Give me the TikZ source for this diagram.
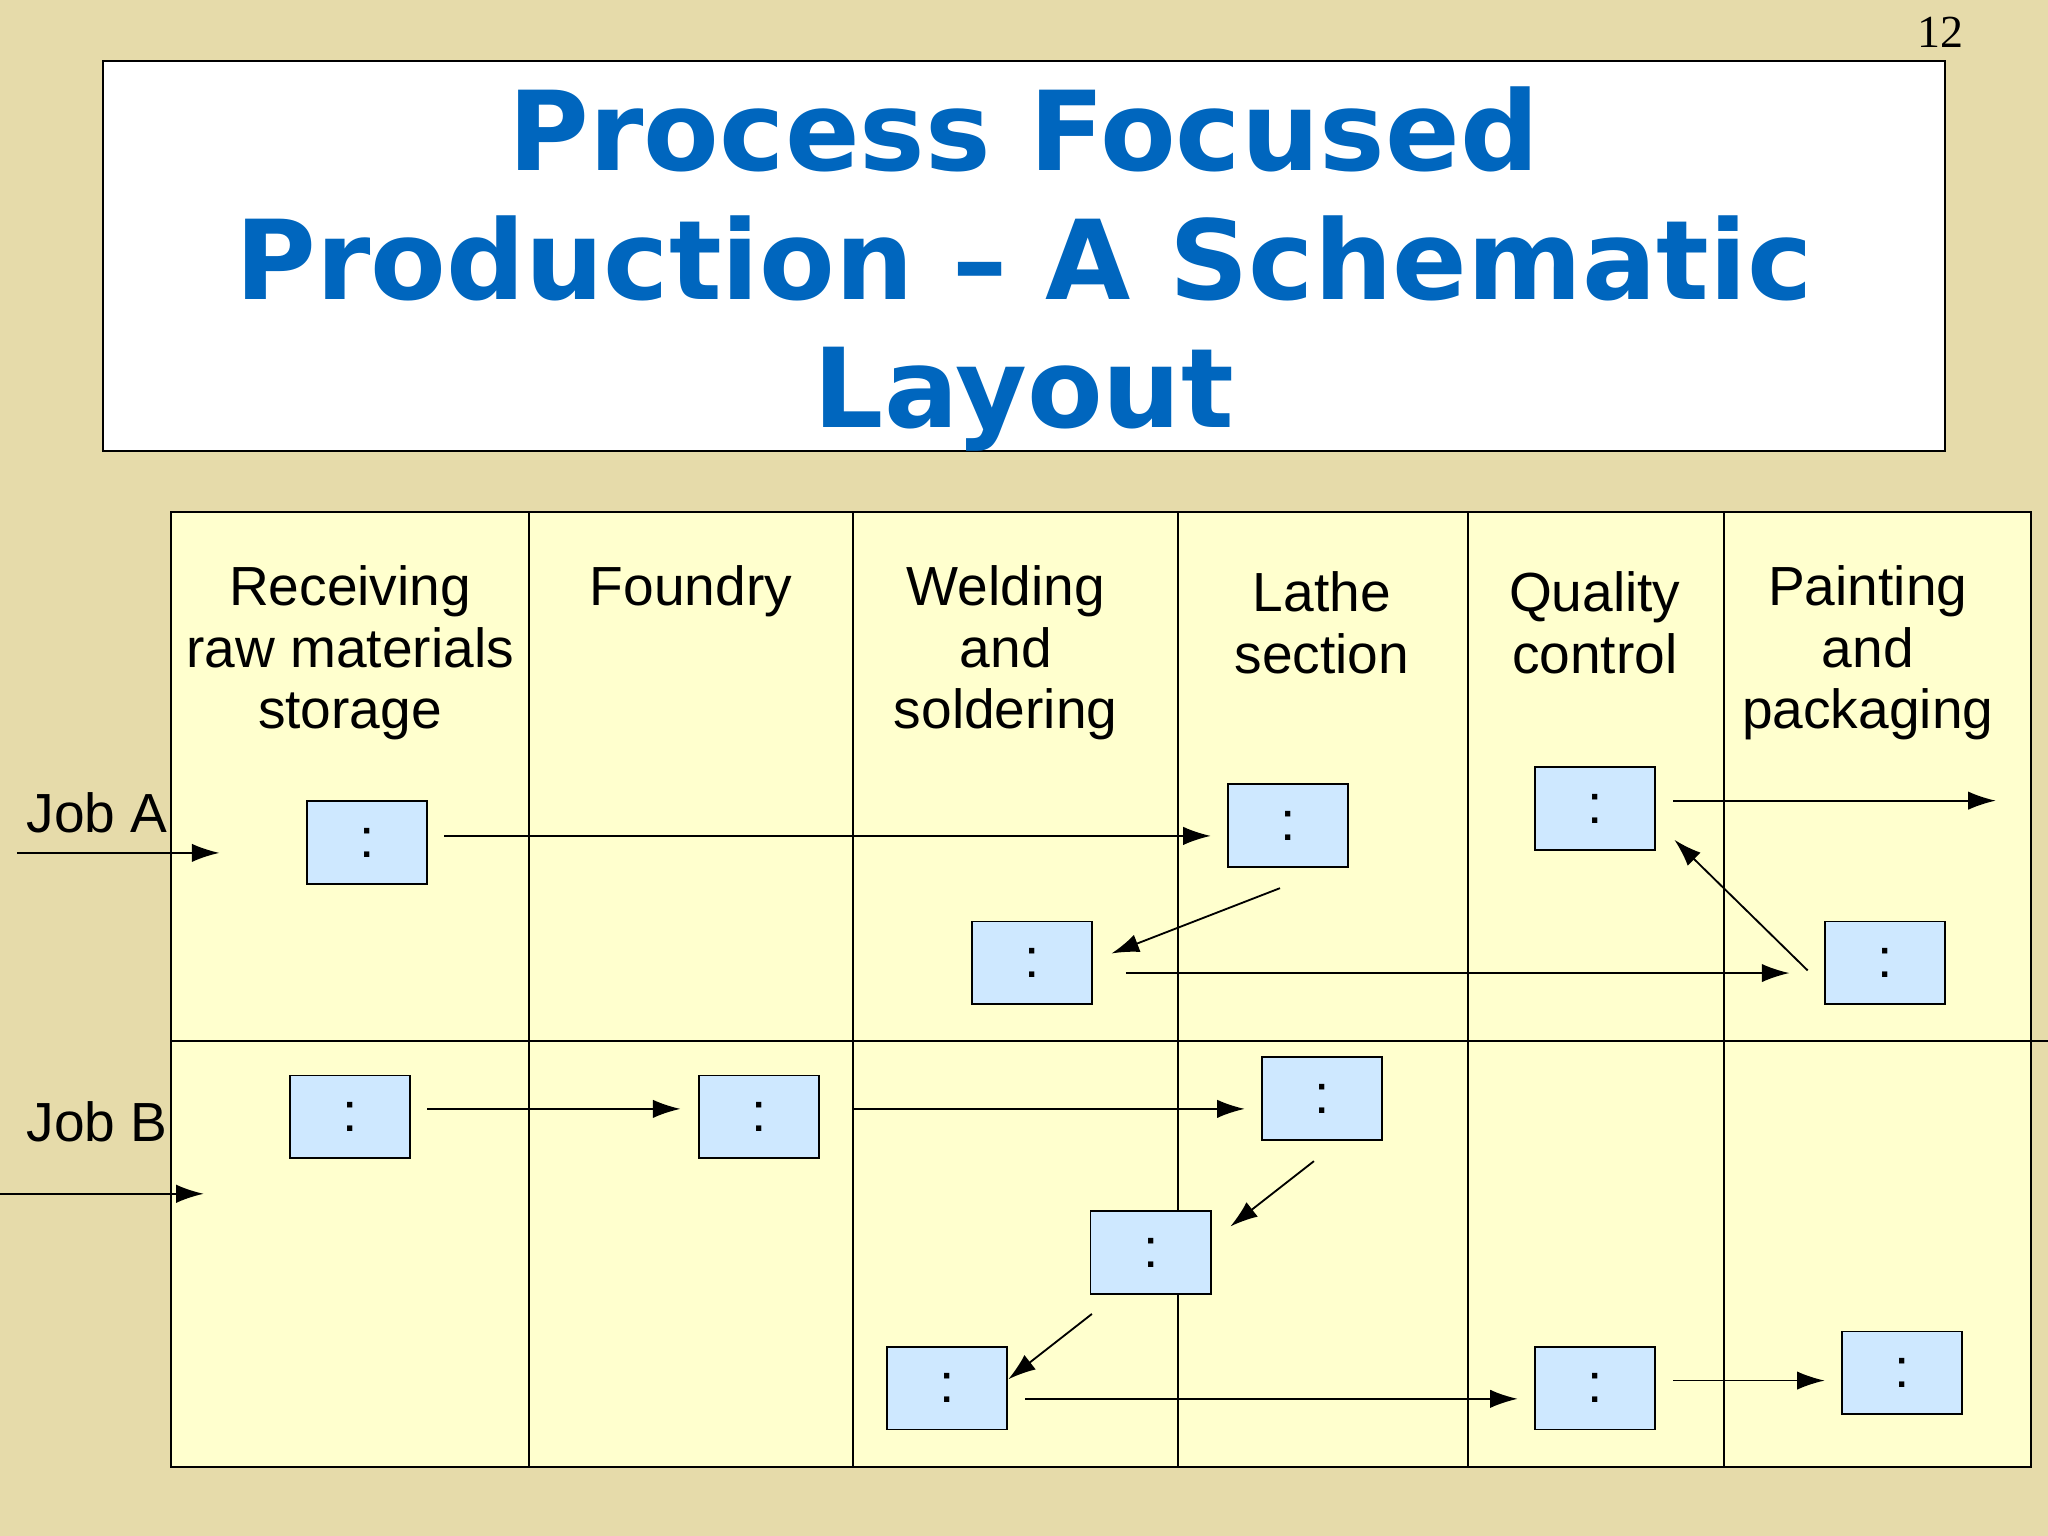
\documentclass[tikz,border=0pt]{standalone}
\usepackage{fontspec}
\setmainfont{Liberation Sans}
\newfontfamily\numfont{Liberation Serif}
\newfontfamily\headfont{DejaVu Sans}
\usetikzlibrary{arrows.meta}
\definecolor{slidebg}{RGB}{230,219,170}
\definecolor{cellbg}{RGB}{255,255,206}
\definecolor{boxbg}{RGB}{206,232,255}
\definecolor{titleblue}{RGB}{0,102,190}
\tikzset{
  dept/.style={align=center,font=\fontsize{12}{13.4}\selectfont},
  station/.style={draw,fill=boxbg,minimum width=0.92cm,minimum height=0.63cm,inner sep=0pt,font=\large},
  flow/.style={-{Latex[length=6pt,width=4pt]},thin},
  job/.style={anchor=west,font=\fontsize{12}{14}\selectfont}
}
\begin{document}
\begin{tikzpicture}[x=0.01cm,y=-0.01cm]
  \fill[slidebg] (0,0) rectangle (1568,1176);
  \useasboundingbox (0,0) rectangle (1568,1176);
  \node[font=\numfont\fontsize{10}{10}\selectfont] (pg) at (1486,25) {12};
  % title
  \draw[fill=white] (79,47) rectangle (1489,345);
  \node[align=center,text=titleblue,font=\headfont\bfseries\fontsize{24}{28}\selectfont] (title) at (784,206)
    {Process Focused\\Production – A Schematic\\Layout};
  % grid
  \draw[fill=cellbg] (131,392) rectangle (1555,1123);
  \draw (131,797) -- (1568,797);
  \foreach \x in {405,653,902,1124,1320} \draw (\x,392) -- (\x,1123);
  \node[dept] (d1) at (268,500) {Receiving\\raw materials\\storage};
  \node[dept] (d2) at (529,453) {Foundry};
  \node[dept] (d3) at (770,500) {Welding\\and\\soldering};
  \node[dept] (d4) at (1012,477) {Lathe\\section};
  \node[dept] (d5) at (1221,477) {Quality\\control};
  \node[dept] (d6) at (1430,500) {Painting\\and\\packaging};
  \node[job] (ja) at (8,622) {Job A};
  \node[job] (jb) at (8,859) {Job B};
  % job A stations
  \node[station] (a1) at (281,645) {:};
  \node[station] (a2) at (986,632) {:};
  \node[station] (a3) at (790,737) {:};
  \node[station] (a4) at (1443,737) {:};
  \node[station] (a5) at (1221,619) {:};
  % job B stations
  \node[station] (b1) at (268,855) {:};
  \node[station] (b2) at (581,855) {:};
  \node[station] (b3) at (1012,841) {:};
  \node[station] (b4) at (881,959) {:};
  \node[station] (b5) at (725,1063) {:};
  \node[station] (b6) at (1221,1063) {:};
  \node[station] (b7) at (1456,1051) {:};
  % arrow ends
  \coordinate (ain) at (13,653);    \coordinate (ain2) at (168,653);
  \coordinate (a1o) at (340,640);   \coordinate (a2i) at (927,640);
  \coordinate (a2o) at (980,680);   \coordinate (a3i) at (851,730);
  \coordinate (a3o) at (862,745);   \coordinate (a4i) at (1370,745);
  \coordinate (a4o) at (1384,743);  \coordinate (a5i) at (1282,643);
  \coordinate (a5o) at (1281,613);  \coordinate (aout) at (1528,613);
  \coordinate (bin) at (0,914);     \coordinate (bin2) at (156,914);
  \coordinate (b1o) at (327,849);   \coordinate (b2i) at (521,849);
  \coordinate (bmid) at (653,849);  \coordinate (b3i) at (953,849);
  \coordinate (b3o) at (1006,889);  \coordinate (b4i) at (942,939);
  \coordinate (b4o) at (836,1006);  \coordinate (b5i) at (772,1056);
  \coordinate (b5o) at (785,1071);  \coordinate (b6i) at (1162,1071);
  \coordinate (b6o) at (1281,1057); \coordinate (b7i) at (1397,1057);
  % job A flow
  \draw[flow] (ain) -- (ain2);
  \draw[flow] (a1o) -- (a2i);
  \draw[flow] (a2o) -- (a3i);
  \draw[flow] (a3o) -- (a4i);
  \draw[flow] (a4o) -- (a5i);
  \draw[flow] (a5o) -- (aout);
  % job B flow
  \draw[flow] (bin) -- (bin2);
  \draw[flow] (b1o) -- (b2i);
  \draw[flow] (bmid) -- (b3i);
  \draw[flow] (b3o) -- (b4i);
  \draw[flow] (b4o) -- (b5i);
  \draw[flow] (b5o) -- (b6i);
  \draw[flow] (b6o) -- (b7i);
\end{tikzpicture}
\end{document}
